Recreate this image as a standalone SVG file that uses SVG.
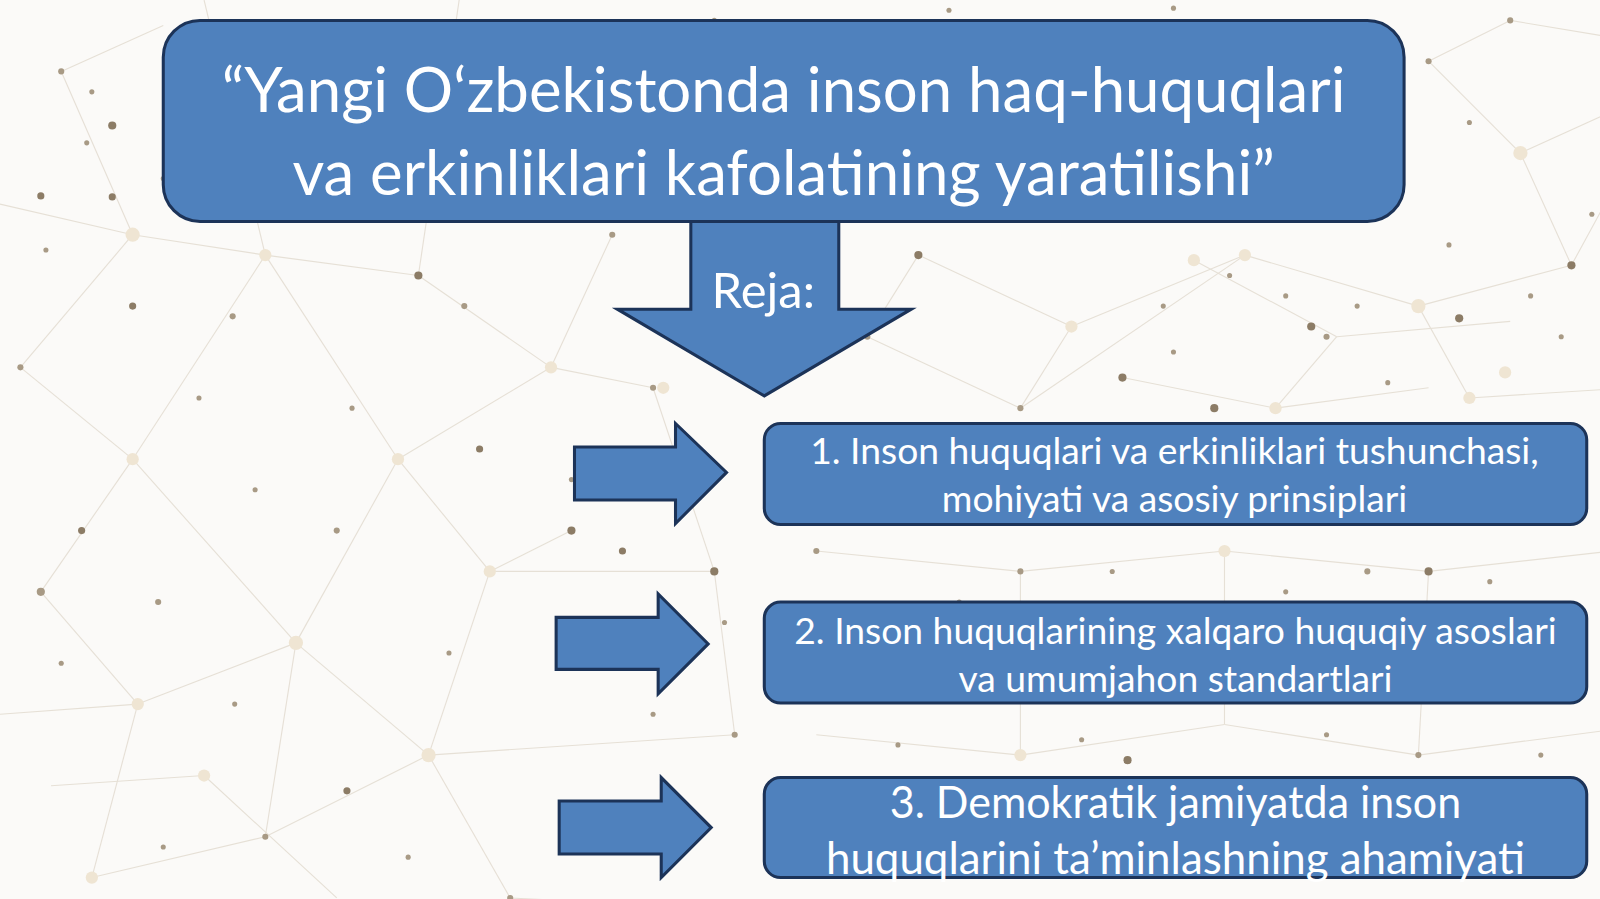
<svg xmlns="http://www.w3.org/2000/svg" width="1600" height="899" viewBox="0 0 1600 899">
<style>
.box{fill:#4f81bd;stroke:#1c3358;stroke-width:3}
.arr{fill:#4f81bd;stroke:#1c3358;stroke-width:3;stroke-linejoin:miter}
.t{font-family:Lato,"Open Sans","Liberation Sans",sans-serif;fill:#ffffff;text-anchor:middle}
.net line{stroke:#e6e0d6;stroke-width:1.1}
.net circle{fill:#a89a85}
.net .big{fill:#efe5d3}
.net .dk{fill:#8c7c66}
</style>
<rect width="1600" height="899" fill="#fbfaf8"/>
<g transform="scale(1.020408)">
<g class="net">
<line x1="60" y1="70" x2="130" y2="230"/><line x1="130" y1="230" x2="20" y2="360"/><line x1="130" y1="230" x2="260" y2="250"/>
<line x1="60" y1="70" x2="160" y2="25"/><line x1="20" y1="360" x2="130" y2="450"/><line x1="130" y1="450" x2="260" y2="250"/>
<line x1="130" y1="450" x2="40" y2="580"/><line x1="40" y1="580" x2="135" y2="690"/><line x1="135" y1="690" x2="290" y2="630"/>
<line x1="290" y1="630" x2="130" y2="450"/><line x1="290" y1="630" x2="390" y2="450"/><line x1="390" y1="450" x2="260" y2="250"/>
<line x1="390" y1="450" x2="540" y2="360"/><line x1="540" y1="360" x2="600" y2="230"/><line x1="260" y1="250" x2="410" y2="270"/>
<line x1="410" y1="270" x2="540" y2="360"/><line x1="135" y1="690" x2="90" y2="860"/><line x1="90" y1="860" x2="260" y2="820"/>
<line x1="260" y1="820" x2="290" y2="630"/><line x1="260" y1="820" x2="420" y2="740"/><line x1="420" y1="740" x2="290" y2="630"/>
<line x1="420" y1="740" x2="500" y2="880"/><line x1="420" y1="740" x2="480" y2="560"/><line x1="480" y1="560" x2="390" y2="450"/>
<line x1="480" y1="560" x2="560" y2="520"/><line x1="500" y1="880" x2="700" y2="890"/><line x1="640" y1="380" x2="540" y2="360"/>
<line x1="640" y1="380" x2="700" y2="560"/><line x1="700" y1="560" x2="480" y2="560"/><line x1="700" y1="560" x2="720" y2="720"/>
<line x1="720" y1="720" x2="420" y2="740"/><line x1="900" y1="250" x2="1050" y2="320"/><line x1="1050" y1="320" x2="1220" y2="250"/>
<line x1="1220" y1="250" x2="1390" y2="300"/><line x1="1390" y1="300" x2="1540" y2="260"/><line x1="1540" y1="260" x2="1600" y2="150"/>
<line x1="1390" y1="300" x2="1440" y2="390"/><line x1="1440" y1="390" x2="1600" y2="380"/><line x1="1050" y1="320" x2="1000" y2="400"/>
<line x1="1000" y1="400" x2="1220" y2="250"/><line x1="1000" y1="400" x2="850" y2="330"/><line x1="850" y1="330" x2="900" y2="250"/>
<line x1="1400" y1="60" x2="1490" y2="150"/><line x1="1490" y1="150" x2="1600" y2="100"/><line x1="1490" y1="150" x2="1540" y2="260"/>
<line x1="1400" y1="60" x2="1480" y2="20"/><line x1="1480" y1="20" x2="1600" y2="40"/><line x1="800" y1="540" x2="1000" y2="560"/>
<line x1="1000" y1="560" x2="1200" y2="540"/><line x1="1200" y1="540" x2="1400" y2="560"/><line x1="1400" y1="560" x2="1580" y2="540"/>
<line x1="800" y1="720" x2="1000" y2="740"/><line x1="1000" y1="740" x2="1200" y2="710"/><line x1="1200" y1="710" x2="1390" y2="740"/>
<line x1="1390" y1="740" x2="1580" y2="715"/><line x1="1000" y1="560" x2="1000" y2="740"/><line x1="1200" y1="540" x2="1200" y2="710"/>
<line x1="1400" y1="560" x2="1390" y2="740"/><line x1="200" y1="0" x2="260" y2="250"/><line x1="450" y1="0" x2="410" y2="270"/>
<line x1="1580" y1="540" x2="1600" y2="700"/><line x1="0" y1="200" x2="130" y2="230"/><line x1="0" y1="700" x2="135" y2="690"/>
<line x1="1170" y1="255" x2="1310" y2="330"/><line x1="1310" y1="330" x2="1480" y2="315"/><line x1="1310" y1="330" x2="1250" y2="400"/>
<line x1="1100" y1="370" x2="1250" y2="400"/><line x1="1250" y1="400" x2="1400" y2="380"/><line x1="230" y1="100" x2="330" y2="160"/>
<line x1="330" y1="160" x2="470" y2="70"/><line x1="50" y1="770" x2="200" y2="760"/><line x1="200" y1="760" x2="330" y2="880"/>
<circle class="big" cx="130" cy="230" r="7"/><circle class="big" cx="260" cy="250" r="6"/><circle class="big" cx="130" cy="450" r="6"/>
<circle class="big" cx="290" cy="630" r="7"/><circle class="big" cx="135" cy="690" r="6"/><circle class="big" cx="390" cy="450" r="6"/>
<circle class="big" cx="420" cy="740" r="7"/><circle class="big" cx="480" cy="560" r="6"/><circle class="big" cx="540" cy="360" r="6"/>
<circle class="big" cx="90" cy="860" r="6"/><circle class="big" cx="1050" cy="320" r="6"/><circle class="big" cx="1220" cy="250" r="6"/>
<circle class="big" cx="1390" cy="300" r="7"/><circle class="big" cx="1490" cy="150" r="7"/><circle class="big" cx="1440" cy="390" r="6"/>
<circle class="big" cx="650" cy="380" r="6"/><circle class="big" cx="1000" cy="740" r="6"/><circle class="big" cx="1200" cy="540" r="6"/>
<circle class="big" cx="1170" cy="255" r="6"/><circle class="big" cx="1250" cy="400" r="6"/><circle class="big" cx="1475" cy="365" r="6"/>
<circle class="big" cx="330" cy="160" r="6"/><circle class="big" cx="200" cy="760" r="6"/>
<circle cx="40" cy="580" r="4"/><circle cx="20" cy="360" r="3"/><circle cx="60" cy="70" r="3"/><circle class="dk" cx="110" cy="123" r="4"/>
<circle cx="228" cy="310" r="3"/><circle class="dk" cx="410" cy="270" r="4"/><circle cx="155" cy="590" r="3"/><circle cx="330" cy="520" r="3"/>
<circle cx="455" cy="300" r="3"/><circle class="dk" cx="560" cy="520" r="4"/><circle cx="640" cy="380" r="3"/><circle class="dk" cx="700" cy="560" r="4"/>
<circle cx="720" cy="720" r="3"/><circle cx="260" cy="820" r="3"/><circle cx="500" cy="880" r="3"/><circle cx="600" cy="230" r="3"/>
<circle class="dk" cx="900" cy="250" r="4"/><circle cx="1000" cy="400" r="3"/><circle cx="850" cy="330" r="3"/><circle class="dk" cx="1540" cy="260" r="4"/>
<circle cx="1400" cy="60" r="3"/><circle cx="1480" cy="20" r="3"/><circle class="dk" cx="1100" cy="370" r="4"/><circle cx="1300" cy="330" r="3"/>
<circle class="dk" cx="1400" cy="560" r="4"/><circle cx="1580" cy="540" r="3"/><circle cx="1390" cy="740" r="3"/><circle class="dk" cx="1105" cy="745" r="4"/>
<circle cx="1340" cy="560" r="3"/><circle cx="1580" cy="715" r="3"/><circle cx="800" cy="540" r="3"/><circle cx="1000" cy="560" r="3"/>
<circle class="dk" cx="1430" cy="312" r="4"/><circle class="dk" cx="1580" cy="265" r="4"/><circle class="dk" cx="1190" cy="400" r="4"/>
<circle class="dk" cx="1285" cy="320" r="4"/><circle cx="1330" cy="300" r="2.5"/><circle cx="1260" cy="290" r="2.5"/><circle cx="1140" cy="300" r="2.5"/>
<circle cx="1205" cy="270" r="2.5"/><circle cx="1150" cy="345" r="2.5"/><circle cx="1530" cy="330" r="2.5"/><circle cx="1500" cy="290" r="2.5"/>
<circle cx="1360" cy="375" r="2.5"/><circle cx="1320" cy="190" r="2.5"/><circle cx="1420" cy="240" r="2.5"/><circle cx="1560" cy="210" r="2.5"/>
<circle class="dk" cx="130" cy="300" r="3.5"/><circle class="dk" cx="110" cy="193" r="3.5"/><circle class="dk" cx="40" cy="192" r="3.5"/>
<circle cx="85" cy="140" r="2.5"/><circle cx="90" cy="90" r="2.5"/><circle cx="160" cy="175" r="2.5"/><circle cx="45" cy="245" r="2.5"/>
<circle cx="195" cy="390" r="2.5"/><circle cx="250" cy="480" r="2.5"/><circle cx="345" cy="400" r="2.5"/><circle class="dk" cx="470" cy="440" r="3.5"/>
<circle cx="560" cy="470" r="2.5"/><circle cx="580" cy="640" r="2.5"/><circle class="dk" cx="610" cy="540" r="3.5"/><circle cx="440" cy="640" r="2.5"/>
<circle class="dk" cx="80" cy="520" r="3.5"/><circle cx="60" cy="650" r="2.5"/><circle cx="230" cy="690" r="2.5"/><circle class="dk" cx="340" cy="775" r="3.5"/>
<circle cx="160" cy="830" r="2.5"/><circle cx="400" cy="840" r="2.5"/><circle cx="640" cy="700" r="2.5"/><circle cx="710" cy="610" r="2.5"/>
<circle cx="940" cy="590" r="2.5"/><circle cx="1090" cy="560" r="2.5"/><circle cx="1260" cy="580" r="2.5"/><circle cx="1460" cy="570" r="2.5"/>
<circle cx="880" cy="730" r="2.5"/><circle cx="1060" cy="725" r="2.5"/><circle cx="1300" cy="720" r="2.5"/><circle cx="1510" cy="740" r="2.5"/>
<circle cx="700" cy="20" r="2.5"/><circle cx="930" cy="10" r="2.5"/><circle cx="1150" cy="8" r="2.5"/><circle cx="1440" cy="120" r="2.5"/>
</g>
<g id="connectors">
<path id="arrow-down" class="arr" d="M677,217 L822,217 L822,303 L893,303 L749,388 L605,303 L677,303 Z"/>
<path id="arrow-1" class="arr" d="M563,438 L662,438 L662,415 L712,463 L662,513 L662,490 L563,490 Z"/>
<path id="arrow-2" class="arr" d="M545,605 L645,605 L645,582 L694,631 L645,680 L645,656 L545,656 Z"/>
<path id="arrow-3" class="arr" d="M548,785 L648,785 L648,762 L697,811 L648,860 L648,837 L548,837 Z"/>
</g>
<g id="title">
<rect class="box" x="160" y="20" width="1216" height="197" rx="36"/>
<text class="t" font-size="60.5"><tspan x="768" y="110">“Yangi O‘zbekistonda inson haq-huquqlari</tspan><tspan x="768" y="191">va erkinliklari kafolatining yaratilishi”</tspan></text>
</g>
<g id="reja">
<text class="t" x="748" y="302" font-size="48">Reja:</text>
</g>
<g id="item-1">
<rect class="box" x="749" y="415" width="806" height="99" rx="16"/>
<text class="t" font-size="36.5"><tspan x="1151" y="455">1. Inson huquqlari va erkinliklari tushunchasi,</tspan><tspan x="1151" y="502">mohiyati va asosiy prinsiplari</tspan></text>
</g>
<g id="item-2">
<rect class="box" x="749" y="590" width="806" height="99" rx="16"/>
<text class="t" font-size="36.5"><tspan x="1152" y="631">2. Inson huquqlarining xalqaro huquqiy asoslari</tspan><tspan x="1152" y="678">va umumjahon standartlari</tspan></text>
</g>
<g id="item-3">
<rect class="box" x="749" y="762" width="806" height="98" rx="16"/>
<text class="t" font-size="43" x="1152" y="802" textLength="560" lengthAdjust="spacingAndGlyphs">3. Demokratik jamiyatda inson</text>
<text class="t" font-size="43" x="1152" y="857">huquqlarini ta’minlashning ahamiyati</text>
</g>
</g>
</svg>
